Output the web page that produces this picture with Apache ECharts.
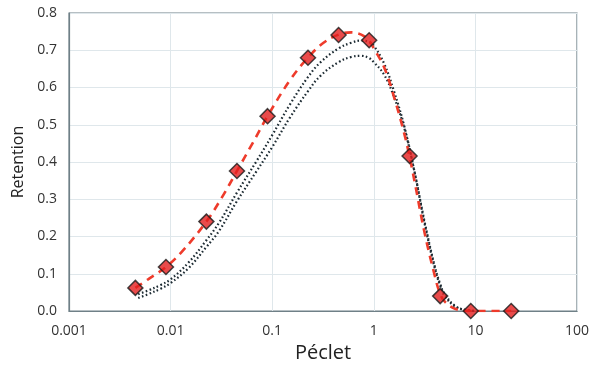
<!DOCTYPE html>
<html>
<head>
<meta charset="utf-8">
<script src="https://cdn.jsdelivr.net/npm/echarts@6/dist/echarts.min.js"></script>
<style>
  html, body { margin: 0; padding: 0; background: #fff; }
  #chart { width: 601px; height: 369px; }
</style>
</head>
<body>
<div id="chart"></div>
<script>
// measured retention (markers)
const pecletPts = [0.0045, 0.009, 0.0225, 0.045, 0.09, 0.225, 0.45, 0.9, 2.25, 4.5, 9, 22.5];
const retentionPts = [0.062, 0.118, 0.24, 0.376, 0.523, 0.68, 0.741, 0.727, 0.416, 0.04, 0.0, 0.0];

// red dashed fit
const fitX = [0.0045, 0.006, 0.009, 0.013, 0.0225, 0.032, 0.045, 0.064, 0.09, 0.15, 0.225, 0.32, 0.45, 0.6, 0.7, 0.8, 0.9, 1.0, 1.26, 1.58, 2.0, 2.24, 2.51, 3.16, 3.98, 4.47, 5.0, 6.3, 7.9, 10, 15, 22.5];
const fitY = [0.062, 0.085, 0.118, 0.16, 0.24, 0.305, 0.376, 0.45, 0.523, 0.62, 0.68, 0.72, 0.742, 0.748, 0.745, 0.738, 0.726, 0.705, 0.655, 0.575, 0.475, 0.416, 0.35, 0.21, 0.095, 0.048, 0.025, 0.006, 0.001, 0, 0, 0];

// black dotted model curves
const modelX = [0.0048, 0.006, 0.008, 0.01, 0.015, 0.0225, 0.03, 0.045, 0.07, 0.1, 0.15, 0.225, 0.3, 0.45, 0.6, 0.75, 0.9, 1.0, 1.26, 1.58, 2.0, 2.51, 3.16, 3.98, 4.47, 5.0, 6.3, 7.9, 10];
const modelUpper = [0.045, 0.055, 0.07, 0.085, 0.13, 0.19, 0.237, 0.318, 0.402, 0.472, 0.555, 0.628, 0.668, 0.705, 0.72, 0.726, 0.722, 0.712, 0.665, 0.59, 0.495, 0.375, 0.235, 0.115, 0.07, 0.04, 0.012, 0.003, 0];
const modelLower = [0.035, 0.045, 0.06, 0.075, 0.115, 0.172, 0.215, 0.295, 0.375, 0.44, 0.52, 0.59, 0.632, 0.668, 0.682, 0.685, 0.679, 0.668, 0.635, 0.575, 0.49, 0.375, 0.24, 0.12, 0.075, 0.045, 0.014, 0.003, 0];

const xTicks = [0.001, 0.01, 0.1, 1, 10, 100];

const zip = (xs, ys) => xs.map((x, i) => [x, ys[i]]);

const chart = echarts.init(document.getElementById('chart'), null, { renderer: 'canvas' });

const font = '"Open Sans", "Liberation Sans", sans-serif';

const option = {
  backgroundColor: '#fff',
  animation: false,
  grid: {
    left: 69, right: 24, top: 13, bottom: 58,
    containLabel: false, outerBoundsMode: 'none',
    show: true, borderColor: '#6f8087', borderWidth: 1.2
  },
  xAxis: {
    type: 'log', logBase: 10, min: 0.001, max: 100,
    name: 'Péclet', nameLocation: 'middle', nameGap: 31,
    nameTextStyle: { fontFamily: font, fontSize: 20, color: '#222' },
    axisLine: { show: true, lineStyle: { color: '#6f8087', width: 1.2 } },
    axisTick: { show: false },
    axisLabel: {
      fontFamily: font, fontSize: 14, color: '#333', margin: 13,
      formatter: (v) => {
        const hit = xTicks.find(t => Math.abs(Math.log10(t) - Math.log10(v)) < 1e-6);
        return hit !== undefined ? String(hit) : '';
      }
    },
    splitLine: { show: true, lineStyle: { color: '#dfe7eb', width: 1 } }
  },
  yAxis: {
    type: 'value', min: 0, max: 0.8, interval: 0.1,
    name: 'Retention', nameLocation: 'middle', nameGap: 42,
    nameTextStyle: { fontFamily: font, fontSize: 16, color: '#222' },
    axisLine: { show: true, lineStyle: { color: '#6f8087', width: 1.2 } },
    axisTick: { show: false },
    axisLabel: {
      fontFamily: font, fontSize: 14, color: '#333', margin: 12,
      formatter: (v) => v.toFixed(1)
    },
    splitLine: { show: true, lineStyle: { color: '#dfe7eb', width: 1 } }
  },
  series: [
    {
      name: 'model lower', type: 'line', data: zip(modelX, modelLower),
      smooth: 0.4, showSymbol: false, z: 2,
      lineStyle: { color: '#1d2b33', width: 2.2, type: [1.6, 2.4] }
    },
    {
      name: 'model upper', type: 'line', data: zip(modelX, modelUpper),
      smooth: 0.4, showSymbol: false, z: 2,
      lineStyle: { color: '#1d2b33', width: 2.2, type: [1.6, 2.4] }
    },
    {
      name: 'fit', type: 'line', data: zip(fitX, fitY),
      smooth: 0.4, showSymbol: false, z: 3,
      lineStyle: { color: '#ee3b2b', width: 2.6, type: [8, 6] }
    },
    {
      name: 'measured', type: 'scatter', data: zip(pecletPts, retentionPts),
      symbol: 'diamond', symbolSize: 15, z: 5,
      itemStyle: { color: '#e41e1e', borderColor: '#1a1a1a', borderWidth: 1.5 }
    }
  ]
};

chart.setOption(option);
</script>
</body>
</html>
